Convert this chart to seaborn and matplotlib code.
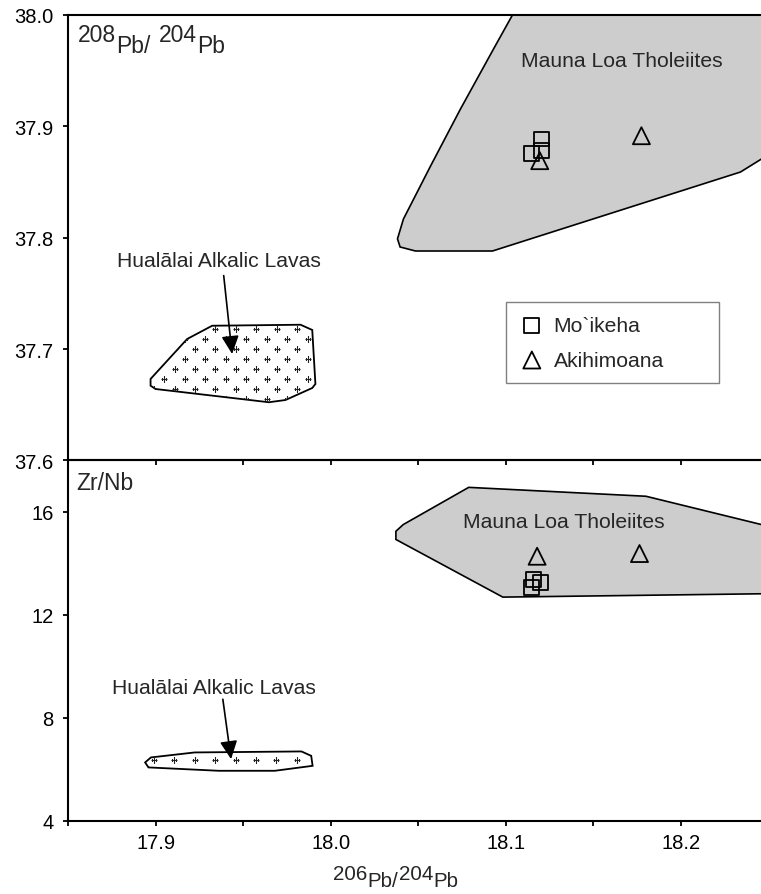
import numpy as np
import pandas as pd
import matplotlib.pyplot as plt
import seaborn as sns
from matplotlib.ticker import MultipleLocator, FormatStrFormatter

# sample data: 206Pb/204Pb against 208Pb/204Pb (upper) and Zr/Nb (lower)
moikeha_pb206 = [18.1203, 18.1203, 18.1146]
moikeha_pb208 = [37.8887, 37.8782, 37.8758]
akihi_pb206 = [18.1193, 18.1774]
akihi_pb208 = [37.8692, 37.8916]

moikeha_pb206_b = [18.1159, 18.1197, 18.1146]
moikeha_zrnb = [13.376, 13.271, 13.077]
akihi_pb206_b = [18.1178, 18.1763]
akihi_zrnb = [14.279, 14.384]

# field outlines (upper panel)
mauna_pb_x = [18.122, 18.1037, 18.0929, 18.0740, 18.0569, 18.0414, 18.0380, 18.0395,
              18.0483, 18.0923, 18.2340, 18.2460, 18.30, 18.30]
mauna_pb_y = [38.05, 38.0, 37.9695, 37.9156, 37.8644, 37.8168, 37.7990, 37.7917,
              37.7881, 37.7881, 37.8590, 37.8707, 37.925, 38.05]
huala_pb_x = [17.9321, 17.9826, 17.9893, 17.9911, 17.9893, 17.9740, 17.9645, 17.8997,
              17.8969, 17.8969, 17.9178]
huala_pb_y = [37.7210, 37.7219, 37.7172, 37.6687, 37.6651, 37.6543, 37.6523, 37.6642,
              37.6672, 37.6732, 37.7091]

# field outlines (lower panel)
mauna_zr_x = [18.0787, 18.1800, 18.2460, 18.30, 18.30, 18.2460, 18.0982, 18.0371,
              18.0371, 18.0413]
mauna_zr_y = [16.956, 16.61, 15.51, 14.7, 12.81, 12.82, 12.69, 14.93, 15.25, 15.51]
huala_zr_x = [17.8971, 17.9221, 17.9831, 17.9887, 17.9895, 17.9679, 17.9359, 17.8957,
              17.8938]
huala_zr_y = [6.459, 6.653, 6.692, 6.521, 6.133, 5.940, 5.940, 6.071, 6.265]

units = ['Mo`ikeha', 'Akihimoana']
unit_markers = {'Mo`ikeha': 's', 'Akihimoana': '^'}
unit_sizes = {'Mo`ikeha': 115, 'Akihimoana': 150}

upper = pd.DataFrame({
    'pb206': moikeha_pb206 + akihi_pb206,
    'val': moikeha_pb208 + akihi_pb208,
    'unit': ['Mo`ikeha'] * len(moikeha_pb206) + ['Akihimoana'] * len(akihi_pb206),
})
lower = pd.DataFrame({
    'pb206': moikeha_pb206_b + akihi_pb206_b,
    'val': moikeha_zrnb + akihi_zrnb,
    'unit': ['Mo`ikeha'] * len(moikeha_pb206_b) + ['Akihimoana'] * len(akihi_pb206_b),
})

sns.set_theme(style='ticks', rc={'axes.linewidth': 1.5})
plt.rcParams['font.family'] = ['Liberation Sans', 'DejaVu Sans']
FS = 15.2
TICK_FS = 14.5
GRAY = '#cdcdcd'

fig = plt.figure(figsize=(7.61, 8.95), dpi=100)
ax1 = fig.add_axes([0.0900, 0.48436, 0.9198, 0.49777])
ax2 = fig.add_axes([0.0900, 0.0819, 0.9198, 0.40246], sharex=ax1)
ax2.patch.set_alpha(0)


def plus_texture(ax, patch, rows, x0, dx, stagger):
    # small '+' fill pattern, clipped to the field outline
    for i, yr in enumerate(rows):
        xs = x0 + dx * np.arange(-6, 14) - (i % 2) * stagger
        ln, = ax.plot(xs, np.full(len(xs), yr), ls='none', marker='+', ms=4.5,
                      mew=0.8, color='#222222', zorder=2)
        ln.set_clip_path(patch)


# upper panel fields
ml1 = ax1.fill(mauna_pb_x, mauna_pb_y, facecolor=GRAY, edgecolor='black', lw=1.2, zorder=1)[0]
hu1 = ax1.fill(huala_pb_x, huala_pb_y, facecolor='white', edgecolor='black', lw=1.3, zorder=1)[0]
plus_texture(ax1, hu1, [37.7181 - 0.009 * k for k in range(8)], 17.9340, 0.01171, 0.00586)

# lower panel fields
ml2 = ax2.fill(mauna_zr_x, mauna_zr_y, facecolor=GRAY, edgecolor='black', lw=1.2, zorder=1)[0]
hu2 = ax2.fill(huala_zr_x, huala_zr_y, facecolor='white', edgecolor='black', lw=1.3, zorder=1)[0]
plus_texture(ax2, hu2, [6.35], 17.8986, 0.01171, 0.0)

for u in units:
    sns.scatterplot(data=upper[upper['unit'] == u], x='pb206', y='val',
                    marker=unit_markers[u], s=unit_sizes[u], facecolor='none',
                    edgecolor='black', linewidth=1.3, label=u, ax=ax1, zorder=3)
    sns.scatterplot(data=lower[lower['unit'] == u], x='pb206', y='val',
                    marker=unit_markers[u], s=unit_sizes[u], facecolor='none',
                    edgecolor='black', linewidth=1.3, legend=False, ax=ax2, zorder=3)

# field names and arrows
ax1.text(18.166, 37.9587, 'Mauna Loa Tholeiites', ha='center', va='center', fontsize=FS)
ax1.text(17.9359, 37.7794, 'Hualālai Alkalic Lavas', ha='center', va='center', fontsize=FS)
arrow = dict(arrowstyle='-|>,head_length=0.5,head_width=0.24', mutation_scale=22,
             lw=1.2, color='black', shrinkA=0, shrinkB=0)
ax1.annotate('', xy=(17.9435, 37.6956), xytext=(17.9387, 37.766), arrowprops=arrow)
ax2.text(18.1329, 15.64, 'Mauna Loa Tholeiites', ha='center', va='center', fontsize=FS)
ax2.text(17.9332, 9.175, 'Hualālai Alkalic Lavas', ha='center', va='center', fontsize=FS)
ax2.annotate('', xy=(17.9429, 6.393), xytext=(17.9382, 8.72), arrowprops=arrow)

# axes
ax1.set_xlim(17.85, 18.25)
ax1.set_ylim(37.6, 38.0)
ax1.yaxis.set_major_locator(MultipleLocator(0.1))
ax1.yaxis.set_major_formatter(FormatStrFormatter('%.1f'))
ax2.set_ylim(4, 18)
ax2.set_yticks([4, 8, 12, 16])
ax2.xaxis.set_major_locator(MultipleLocator(0.1))
ax2.xaxis.set_minor_locator(MultipleLocator(0.05))
ax2.xaxis.set_major_formatter(FormatStrFormatter('%.1f'))

for ax in (ax1, ax2):
    ax.set_xlabel('')
    ax.set_ylabel('')
    ax.tick_params(axis='both', which='both', direction='out', length=3.6, width=1.3,
                   color='black', labelsize=TICK_FS, labelcolor='black')
    ax.tick_params(axis='y', pad=7)
    ax.tick_params(axis='x', pad=5)
    for sp in ax.spines.values():
        sp.set_color('black')
ax1.tick_params(axis='x', which='both', labelbottom=False)

# legend
leg = ax1.legend(loc='upper left', bbox_to_anchor=(0.625, 0.0, 0.304, 0.3558),
                 mode='expand', borderaxespad=0, fontsize=FS, frameon=True,
                 fancybox=False, framealpha=1, edgecolor='#808080',
                 handlelength=1.15, handletextpad=0.45, borderpad=0.65, labelspacing=0.75)
leg.get_frame().set_linewidth(1.0)


def chain_label(ax, pieces, xy, xycoords, size, drop, first_offset=(0, 0)):
    # pieces: list of (text, lowered?, gap in points before piece)
    prev = None
    lowered = False
    for txt, low, gap in pieces:
        if prev is None:
            t = ax.annotate(txt, xy=xy, xycoords=xycoords, xytext=first_offset,
                            textcoords='offset points', ha='left', va='baseline',
                            fontsize=size, annotation_clip=False)
        else:
            dy = 0
            if low and not lowered:
                dy = -drop
            elif lowered and not low:
                dy = drop
            t = ax.annotate(txt, xy=(1, 0), xycoords=prev, xytext=(gap, dy),
                            textcoords='offset points', ha='left', va='bottom',
                            fontsize=size, annotation_clip=False)
        lowered = low
        prev = t


chain_label(ax1, [('208', False, 0), ('Pb/', True, 0.3), ('204', False, 5.5), ('Pb', True, 0.3)],
            (0, 1), 'axes fraction', 16.5, 8.3, first_offset=(6.8, -18.5))
ax2.text(0.0118, 0.921, 'Zr/Nb', transform=ax2.transAxes, ha='left', va='baseline', fontsize=16.5)
chain_label(ax2, [('206', False, 0), ('Pb/', True, 0.2), ('204', False, 0.2), ('Pb', True, 0.2)],
            (333, 14.5), 'figure pixels', 14.8, 5.0)

fig.savefig('out.png', dpi=100)
